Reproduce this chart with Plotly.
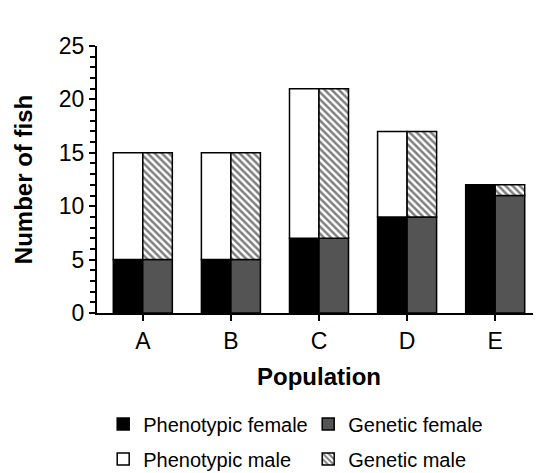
import plotly.graph_objects as go

populations = ["A", "B", "C", "D", "E"]
phenotypic_female = [5, 5, 7, 9, 12]
phenotypic_male = [10, 10, 14, 8, 0]
genetic_female = [5, 5, 7, 9, 11]
genetic_male = [10, 10, 14, 8, 1]

FONT = "Liberation Sans, Arial, sans-serif"
BW = 0.335
line = dict(color="black", width=1.5)

# page body has an 8px default margin; size the figure to fill the rest
W, H = 533, 465

fig = go.Figure()
fig.add_trace(go.Bar(
    x=populations, y=phenotypic_female, name="Phenotypic female",
    offset=-BW, width=BW, marker=dict(color="black", line=line),
    legend="legend",
))
fig.add_trace(go.Bar(
    x=populations, y=genetic_female, name="Genetic female",
    offset=0, width=BW, marker=dict(color="#545454", line=line),
    legend="legend",
))
fig.add_trace(go.Bar(
    x=populations, y=phenotypic_male, base=phenotypic_female, name="Phenotypic male",
    offset=-BW, width=BW, marker=dict(color="white", line=line),
    legend="legend2",
))
fig.add_trace(go.Bar(
    x=populations, y=genetic_male, base=genetic_female, name="Genetic male",
    offset=0, width=BW,
    marker=dict(color="white", line=line,
                pattern=dict(shape="\\", fgcolor="black", bgcolor="white",
                             size=5, solidity=0.5)),
    legend="legend2",
))

legend_common = dict(
    orientation="h", xref="container", yref="container",
    xanchor="left", yanchor="middle", entrywidth=160,
    font=dict(family=FONT, size=20, color="black"),
    bgcolor="rgba(0,0,0,0)", itemclick=False, traceorder="normal",
)

fig.update_layout(
    width=W, height=H,
    margin=dict(l=89, r=0, t=38, b=160, autoexpand=False),
    paper_bgcolor="white", plot_bgcolor="white",
    barmode="overlay",
    font=dict(family=FONT, color="black"),
    legend=dict(x=95.2 / W, y=1 - 416 / H, **legend_common),
    legend2=dict(x=95.2 / W, y=1 - 451 / H, **legend_common),
    xaxis=dict(
        type="category", range=[-0.52, 4.52],
        showline=True, linecolor="black", linewidth=2,
        ticks="outside", ticklen=6, tickwidth=2, tickcolor="black",
        tickfont=dict(family=FONT, size=23, color="black"),
        showgrid=False, zeroline=False,
        title=dict(text="<b>Population</b>", font=dict(family=FONT, size=24, color="black"), standoff=16),
    ),
    yaxis=dict(
        range=[0, 25], dtick=5,
        showline=True, linecolor="black", linewidth=2,
        ticks="outside", ticklen=6, tickwidth=2, tickcolor="black",
        ticklabelstandoff=0,
        minor=dict(dtick=1, ticks="outside", ticklen=5, tickwidth=1.5, tickcolor="black", showgrid=False),
        tickfont=dict(family=FONT, size=23, color="black"),
        showgrid=False, zeroline=False,
        title=dict(text="<b>Number of fish</b>", font=dict(family=FONT, size=24, color="black"), standoff=19),
    ),
)

fig.write_html("out.html")
